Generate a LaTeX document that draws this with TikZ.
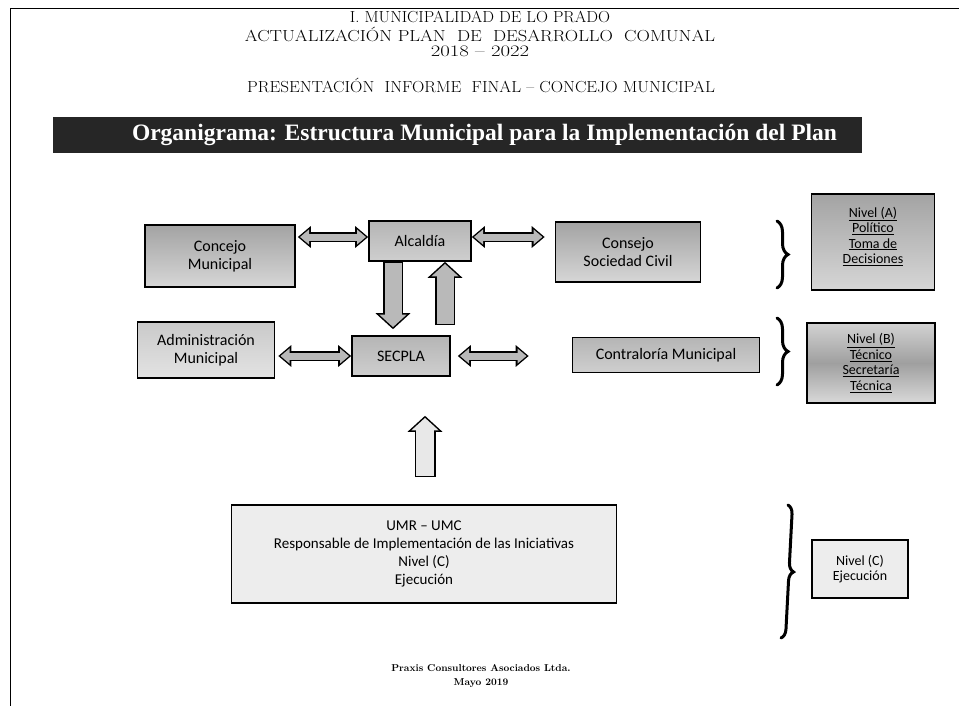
\documentclass[tikz,border=0pt]{standalone}
\usepackage{fontspec}
\newfontfamily\boxfont[Ligatures=TeX]{Carlito}
\newfontfamily\banfont{Liberation Serif}
\usetikzlibrary{arrows.meta,decorations.pathreplacing,calc}
\tikzset{
  titletxt/.style={font=\fontsize{16}{18}\selectfont, inner sep=0pt},
  foottxt/.style={font=\bfseries\fontsize{10}{12}\selectfont, inner sep=0pt},
  orgbox/.style={draw=black, line width=1.6pt, align=center, inner sep=2pt,
    font=\boxfont\fontsize{16}{18}\selectfont},
  darkbox/.style={orgbox, top color=gray!72, bottom color=gray!32},
  midbox/.style={orgbox, top color=gray!58, bottom color=gray!38},
  lightbox/.style={orgbox, top color=gray!42, bottom color=gray!22},
  palebox/.style={orgbox, fill=gray!14},
  bandbox/.style={orgbox, top color=gray!35, bottom color=gray!30, middle color=gray!75},
  levtxt/.style={font=\boxfont\fontsize{14}{15.5}\selectfont},
  % horizontal double block arrow
  hout/.style={line width=10pt, draw=black,
    arrows={Triangle[length=13pt,width=21pt]-Triangle[length=13pt,width=21pt]}},
  hin/.style={line width=7pt, draw=gray!55, shorten <=2.2pt, shorten >=2.2pt,
    arrows={Triangle[length=9pt,width=14.5pt]-Triangle[length=9pt,width=14.5pt]}},
  % vertical single block arrow
  vout/.style={line width=20pt, draw=black,
    arrows={-Triangle[length=16pt,width=34pt]}},
  vin/.style={line width=17pt, draw=gray!55, shorten >=2.1pt,
    arrows={-Triangle[length=12.4pt,width=26.4pt]}},
  vinpale/.style={vin, draw=gray!18},
  bracestyle/.style={decorate, decoration={brace, amplitude=11pt}, line width=3pt, line cap=round}
}
\begin{document}
\begin{tikzpicture}[x=1pt,y=-1pt]
\useasboundingbox (0,0) rectangle (959,706);
\fill[white] (0,0) rectangle (959,706);
\draw[line width=0.9pt] (959,8) -- (10,8) -- (10,706);

% titles
\node[titletxt] (t1) at (480,17) {\scalebox{1.04}[1]{I. MUNICIPALIDAD DE LO PRADO}};
\node[titletxt] (t2) at (480,34) {\scalebox{1.16}[1]{ACTUALIZACIÓN PLAN\ \ DE\ \ DESARROLLO\ \ COMUNAL}};
\node[titletxt] (t3) at (480,51) {\scalebox{1.3}[1]{2018\ – 2022}};
\node[titletxt] (t4) at (481,85) {\scalebox{1.07}[1]{PRESENTACIÓN\ \ INFORME\ \ FINAL – CONCEJO MUNICIPAL}};

% banner
\node[fill=black!85, minimum width=809pt, minimum height=36pt, inner sep=0pt,
      text=white, font=\banfont\bfseries\fontsize{23.5}{26}\selectfont] (ban) at (457.5,135)
      {\hspace*{54pt}Organigrama: Estructura Municipal para la Implementación del Plan};

% boxes
\node[darkbox, minimum width=150pt, minimum height=62pt] (cm) at (220,256) {Concejo\\Municipal};
\node[midbox, minimum width=102pt, minimum height=40pt] (alc) at (420,241) {Alcaldía};
\node[darkbox, minimum width=145pt, minimum height=60pt] (csc) at (628,252) {Consejo\\Sociedad Civil};
\node[darkbox, minimum width=123pt, minimum height=96pt, levtxt] (na) at (873,242)
      {\underline{Nivel (A)}\\\underline{Político}\\\underline{Toma de}\\\underline{Decisiones}\\[-2pt]};

\node[lightbox, minimum width=137pt, minimum height=56pt] (adm) at (206,350) {Administración\\Municipal};
\node[midbox, minimum width=98pt, minimum height=40pt] (sec) at (401,356) {SECPLA};
\node[midbox, minimum width=187pt, minimum height=35pt] (con) at (666,355) {Contraloría Municipal};
\node[bandbox, minimum width=128pt, minimum height=80pt, levtxt] (nb) at (871,363)
      {\underline{Nivel (B)}\\\underline{Técnico}\\\underline{Secretaría}\\\underline{Técnica}};

\node[palebox, minimum width=385pt, minimum height=98pt, font=\boxfont\fontsize{15}{18}\selectfont] (umr) at (424,554)
      {\rule{0pt}{8pt}UMR – UMC\\Responsable de Implementación de las Iniciativas\\Nivel (C)\\Ejecución};
\node[palebox, minimum width=96pt, minimum height=58pt, levtxt] (nc) at (860,569) {Nivel (C)\\Ejecución};

% horizontal arrows
\draw[hout, shorten <=2pt] ([yshift=4pt]cm.east |- alc.west) -- ([yshift=4pt]alc.west);
\draw[hin, shorten <=4.2pt] ([yshift=4pt]cm.east |- alc.west) -- ([yshift=4pt]alc.west);
\draw[hout, shorten >=10pt] ([yshift=4pt]alc.east) -- ([yshift=4pt]csc.west |- alc.east);
\draw[hin, shorten >=12.2pt] ([yshift=4pt]alc.east) -- ([yshift=4pt]csc.west |- alc.east);
\draw[hout, shorten <=3pt] (adm.east |- sec.west) -- (sec.west);
\draw[hin, shorten <=5.2pt] (adm.east |- sec.west) -- (sec.west);
\draw[hout, shorten <=7pt, shorten >=43pt] (sec.east) -- (con.west |- sec.east);
\draw[hin, shorten <=9.2pt, shorten >=45.2pt] (sec.east) -- (con.west |- sec.east);

% vertical arrows
\coordinate (dnx) at (393,0);
\coordinate (upx) at (445,0);
\coordinate (bigx) at (425,0);
\draw[vout, shorten >=6pt] (alc.south -| dnx) -- (sec.north -| dnx);
\draw[vin, shorten <=1.5pt, shorten >=8.1pt] (alc.south -| dnx) -- (sec.north -| dnx);
\draw[vout, shorten <=10pt] (sec.north -| upx) -- (alc.south -| upx);
\draw[vin, shorten <=11.5pt] (sec.north -| upx) -- (alc.south -| upx);
\draw[vout, line width=21pt, shorten <=27pt, shorten >=39pt] (umr.north -| bigx) -- (sec.south -| bigx);
\draw[vinpale, line width=18pt, shorten <=28.5pt, shorten >=41.1pt] (umr.north -| bigx) -- (sec.south -| bigx);

% braces
\draw[bracestyle] (777,221) -- (777,288);
\draw[bracestyle] (777,318) -- (777,385);
\draw[bracestyle, decoration={brace, amplitude=9pt}] (788,505) -- (781,638);

% footer
\node[foottxt] (f1) at (481,668) {Praxis Consultores Asociados Ltda.};
\node[foottxt] (f2) at (481,683) {Mayo 2019};
\end{tikzpicture}
\end{document}
